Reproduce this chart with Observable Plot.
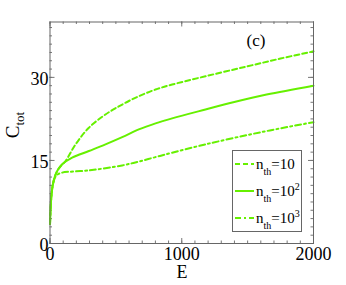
<!DOCTYPE html>
<html>
<head>
<meta charset="utf-8">
<script src="https://cdn.jsdelivr.net/npm/d3@7"></script>
<script src="https://cdn.jsdelivr.net/npm/@observablehq/plot@0.6"></script>
<style>
  body { margin: 0; background: #fff; }
  #wrap { position: relative; width: 346px; height: 285px; font-family: "Liberation Serif", serif; }
  #wrap svg text { font-family: "Liberation Serif", serif; }
  #legend { position: absolute; left: 232px; top: 150px; width: 70px; height: 82px; border: 1px solid #666; background: #fff; box-sizing: border-box; }
  .row { position: absolute; left: 2px; height: 20px; display: flex; align-items: center; font-size: 15px; color: #000; font-family: "Liberation Serif", serif; }
  .row svg { margin-right: 2px; }
  .sub { font-size: 10px; position: relative; top: 6px; }
  .sup { font-size: 10px; position: relative; top: -6px; }
</style>
</head>
<body>
<div id="wrap"></div>
<script>
const FONT = "'Liberation Serif', serif";
const color = "#66f000";
// n_th = 10 (dashed)
const E10   = [0, 3, 8, 15, 25, 40, 60, 90, 118, 194, 295, 421, 548, 674, 801, 927, 1180, 1500, 1750, 2000];
const C10   = [3.5, 5.5, 7.8, 9.6, 11.0, 12.3, 13.3, 14.2, 14.9, 17.9, 20.9, 23.3, 25.1, 26.6, 27.8, 28.7, 30.2, 32.0, 33.4, 34.7];
// n_th = 10^2 (solid)
const E100  = [0, 3, 8, 15, 25, 40, 60, 92, 168, 295, 421, 548, 674, 801, 927, 1180, 1391, 1644, 2000];
const C100  = [3.5, 5.5, 7.8, 9.6, 11.0, 12.3, 13.3, 14.3, 15.5, 16.7, 17.9, 19.2, 20.6, 21.7, 22.6, 24.2, 25.5, 26.9, 28.5];
// n_th = 10^3 (dash-dot)
const E1000 = [0, 3, 8, 15, 25, 40, 60, 92, 295, 548, 674, 801, 927, 1180, 1500, 1750, 2000];
const C1000 = [3.5, 5.5, 7.8, 9.6, 11.0, 12.0, 12.5, 12.8, 13.2, 14.1, 14.8, 15.6, 16.4, 17.9, 19.6, 20.8, 21.9];

const xMajor = [0, 1000, 2000];
const xMinor = d3.range(0, 2001, 100);
const yMajor = [0, 15, 30];
const yMinor = d3.range(0, 40.01, 1.5);

const toRows = (E, C) => E.map((e, i) => ({E: e, C: C[i]}));

const W = 346, H = 285, mL = 49.5, mR = 33, mT = 21.5, mB = 42;
const innerH = H - mT - mB, innerW = W - mL - mR;
const tickCol = "#777";

const chart = Plot.plot({
  width: W, height: H,
  marginLeft: mL, marginRight: mR, marginTop: mT, marginBottom: mB,
  style: {fontFamily: FONT, background: "#fff"},
  x: {domain: [0, 2000]},
  y: {domain: [0, 40]},
  marks: [
    Plot.axisX(xMajor, {tickSize: 0, tickPadding: 4, fontSize: 18, label: null, tickFormat: d => String(d), fill: "#000"}),
    Plot.axisY(yMajor, {tickSize: 0, tickPadding: 1.5, fontSize: 18, label: null, dy: 1.5, tickFormat: d => String(d), fill: "#000"}),
    // inward minor/major ticks on all four sides
    Plot.tickX(xMinor, {x: d => d, insetTop: innerH - 2.5, stroke: tickCol}),
    Plot.tickX(xMinor, {x: d => d, insetBottom: innerH - 2.5, stroke: tickCol}),
    Plot.tickX(xMajor, {x: d => d, insetTop: innerH - 5, stroke: tickCol}),
    Plot.tickX(xMajor, {x: d => d, insetBottom: innerH - 5, stroke: tickCol}),
    Plot.tickY(yMinor, {y: d => d, insetRight: innerW - 2.5, stroke: tickCol}),
    Plot.tickY(yMinor, {y: d => d, insetLeft: innerW - 2.5, stroke: tickCol}),
    Plot.tickY(yMajor, {y: d => d, insetRight: innerW - 5, stroke: tickCol}),
    Plot.tickY(yMajor, {y: d => d, insetLeft: innerW - 5, stroke: tickCol}),
    Plot.line(toRows(E1000, C1000), {x: "E", y: "C", stroke: color, strokeWidth: 2, strokeDasharray: "6,3,2,3", curve: "catmull-rom"}),
    Plot.line(toRows(E10, C10), {x: "E", y: "C", stroke: color, strokeWidth: 2, strokeDasharray: "5,3", curve: "catmull-rom"}),
    Plot.line(toRows(E100, C100), {x: "E", y: "C", stroke: color, strokeWidth: 2, curve: "catmull-rom"}),
    Plot.frame({stroke: "#666"})
  ]
});

const wrap = document.getElementById("wrap");
wrap.appendChild(chart);

// axis titles and panel label
const svg = d3.select(chart);
svg.append("text").attr("x", 182).attr("y", 278).attr("text-anchor", "middle")
  .attr("font-size", 18).text("E");
const yl = svg.append("text").attr("transform", "translate(19,125) rotate(-90)")
  .attr("font-size", 19);
yl.append("tspan").text("C");
yl.append("tspan").attr("font-size", 13).attr("dy", 5).text("tot");
svg.append("text").attr("x", 256).attr("y", 46).attr("text-anchor", "middle")
  .attr("font-size", 17).text("(c)");
svg.selectAll("text").style("font-family", FONT);

// legend
const labels = [["10", ""], ["10", "2"], ["10", "3"]];
const dashes = ["5,3", null, "6,3,2,3"];
const legend = document.createElement("div");
legend.id = "legend";
labels.forEach((lab, i) => {
  const row = document.createElement("div");
  row.className = "row";
  row.style.top = (3 + i * 27) + "px";
  const s = d3.create("svg").attr("width", 19).attr("height", 6);
  const l = s.append("line").attr("x1", 0).attr("x2", 19).attr("y1", 3).attr("y2", 3)
    .attr("stroke", color).attr("stroke-width", 2);
  if (dashes[i]) l.attr("stroke-dasharray", dashes[i]);
  row.appendChild(s.node());
  const t = document.createElement("span");
  t.innerHTML = `n<span class="sub">th</span>=${lab[0]}` + (lab[1] ? `<span class="sup">${lab[1]}</span>` : "");
  row.appendChild(t);
  legend.appendChild(row);
});
wrap.appendChild(legend);
</script>
</body>
</html>
